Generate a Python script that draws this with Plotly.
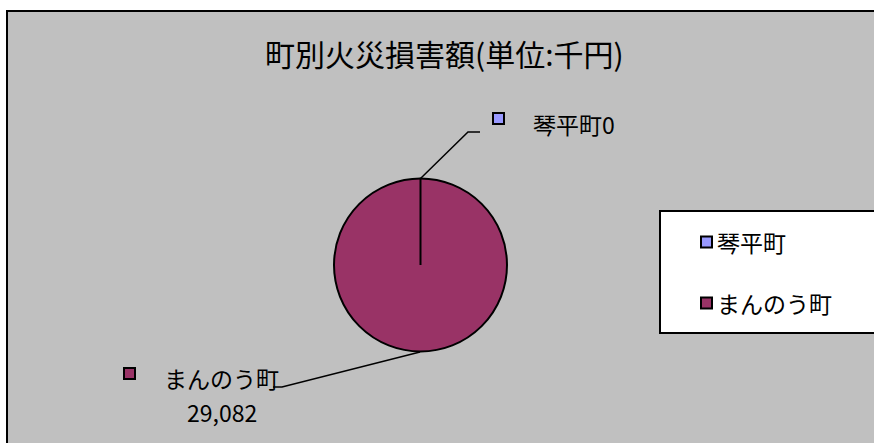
import plotly.graph_objects as go

# ---- data ----
labels = ["琴平町", "まんのう町"]
values = [0, 29082]
colors = ["#9999FF", "#993366"]
title_text = "町別火災損害額(単位:千円)"

W, H = 874, 443
FONT = "Noto Sans CJK JP"


def px(x):
    return x / W


def py(y):
    return 1 - y / H


fig = go.Figure()
fig.add_trace(go.Pie(
    labels=labels,
    values=values,
    sort=False,
    direction="clockwise",
    rotation=0,
    marker=dict(colors=colors, line=dict(color="black", width=2)),
    textinfo="none",
    hoverinfo="skip",
    showlegend=False,
    domain=dict(x=[px(334), px(507)], y=[py(352), py(178)]),
))

shapes = []
# chart area background + border
shapes.append(dict(type="rect", xref="paper", yref="paper", layer="below",
                   x0=px(7), x1=px(W + 5), y0=py(H + 5), y1=py(11),
                   fillcolor="#C0C0C0", line=dict(color="black", width=2)))
# radial boundary line of zero slice
shapes.append(dict(type="line", xref="paper", yref="paper",
                   x0=px(420.5), y0=py(265), x1=px(420.5), y1=py(178),
                   line=dict(color="black", width=2)))
# leader lines
shapes.append(dict(type="path", xref="paper", yref="paper",
                   path=f"M {px(421)} {py(178)} L {px(468)} {py(132)} L {px(480)} {py(132)}",
                   line=dict(color="black", width=1.5)))
shapes.append(dict(type="path", xref="paper", yref="paper",
                   path=f"M {px(420)} {py(352)} L {px(282)} {py(387)} L {px(273)} {py(387)}",
                   line=dict(color="black", width=1.5)))
# legend box
shapes.append(dict(type="rect", xref="paper", yref="paper",
                   x0=px(660), x1=px(W + 5), y0=py(333), y1=py(211),
                   fillcolor="white", line=dict(color="black", width=2)))
# legend squares
for yc, c in zip([242, 303], colors):
    shapes.append(dict(type="rect", xref="paper", yref="paper",
                       x0=px(701), x1=px(712), y0=py(yc + 5.5), y1=py(yc - 5.5),
                       fillcolor=c, line=dict(color="black", width=2)))
# data label squares
for (xc, yc), c in zip([(498.5, 118.5), (129.5, 373.5)], colors):
    shapes.append(dict(type="rect", xref="paper", yref="paper",
                       x0=px(xc - 5.5), x1=px(xc + 5.5), y0=py(yc + 5.5), y1=py(yc - 5.5),
                       fillcolor=c, line=dict(color="black", width=2)))

annotations = []
annotations.append(dict(text=title_text, xref="paper", yref="paper",
                        x=px(444), y=py(53), xanchor="center", yanchor="middle",
                        showarrow=False, font=dict(family=FONT, size=30, color="black")))
# legend text
for yc, lab in zip([242, 303], labels):
    annotations.append(dict(text=lab, xref="paper", yref="paper",
                            x=px(715), y=py(yc), xanchor="left", yanchor="middle",
                            showarrow=False, font=dict(family=FONT, size=23, color="black")))
# data labels
annotations.append(dict(text=f"{labels[0]}{values[0]:,}", xref="paper", yref="paper",
                        x=px(531), y=py(124), xanchor="left", yanchor="middle",
                        showarrow=False, font=dict(family=FONT, size=23, color="black")))
annotations.append(dict(text=labels[1], xref="paper", yref="paper",
                        x=px(221.5), y=py(378), xanchor="center", yanchor="middle",
                        showarrow=False, font=dict(family=FONT, size=23, color="black")))
annotations.append(dict(text=f"{values[1]:,}", xref="paper", yref="paper",
                        x=px(221.5), y=py(412), xanchor="center", yanchor="middle",
                        showarrow=False, font=dict(family=FONT, size=23, color="black")))

fig.update_layout(
    width=W, height=H,
    margin=dict(l=0, r=0, t=0, b=0),
    paper_bgcolor="white",
    plot_bgcolor="rgba(0,0,0,0)",
    shapes=shapes,
    annotations=annotations,
    showlegend=False,
)

fig.write_html("out.html",
               config={"displayModeBar": False},
               post_script="document.body.style.margin='0';document.body.style.overflow='hidden';")
